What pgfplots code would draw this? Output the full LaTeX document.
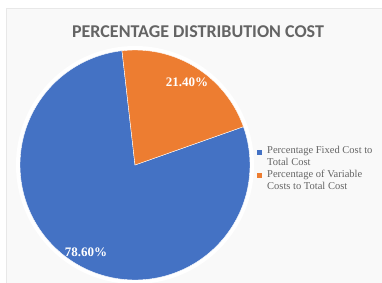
\documentclass[border=0pt]{standalone}
\usepackage{pgfplots}
\pgfplotsset{compat=1.18}
\usepackage{pgfplotstable}
\usepackage{fontspec}
\setmainfont{Liberation Serif}
\newfontfamily\titlefont{Carlito}
\definecolor{pieblue}{RGB}{68,114,196}
\definecolor{pieorange}{RGB}{237,125,49}
\definecolor{txtgray}{RGB}{100,100,100}
\pgfplotstableread{
label value
fixed 78.60
variable 21.40
}\datatable
\pgfplotstablegetelem{0}{value}\of\datatable \let\vfixed\pgfplotsretval
\pgfplotstablegetelem{1}{value}\of\datatable \let\vvar\pgfplotsretval
\pgfmathsetmacro\aStart{96.5}
\pgfmathsetmacro\aMid{\aStart-3.6*\vvar}
\pgfmathsetmacro\aEnd{\aStart-3.6*(\vvar+\vfixed)}
\begin{document}
\begin{tikzpicture}
\begin{axis}[name=ax, width=382pt, height=282pt, scale only axis,
  xmin=0, xmax=382, ymin=0, ymax=282, hide axis, clip=false]
% background frame
\fill[white] (axis cs:0,0) rectangle (axis cs:382,282);
\fill[gray!5, draw=gray!18] (axis cs:6,-10) rectangle (axis cs:390,274);
% halo
\fill[white] (axis cs:135,117) circle[radius=119pt];
% slices
\addplot[draw=white, line width=0.4pt, fill=pieblue, domain=\aEnd:\aMid, samples=180, variable=\t]
  ({135+115*cos(\t)},{117+115*sin(\t)}) -- (axis cs:135,117) -- cycle;
\addplot[draw=white, line width=0.4pt, fill=pieorange, domain=\aMid:\aStart, samples=60, variable=\t]
  ({135+115*cos(\t)},{117+115*sin(\t)}) -- (axis cs:135,117) -- cycle;
% labels
\node[text=white, font=\bfseries\fontsize{13}{14}\selectfont] at (axis cs:187,200) {\pgfmathprintnumber[fixed,fixed zerofill,precision=2,assume math mode=true]{\vvar}\%};
\node[text=white, font=\bfseries\fontsize{13}{14}\selectfont] at (axis cs:86,30) {\pgfmathprintnumber[fixed,fixed zerofill,precision=2,assume math mode=true]{\vfixed}\%};
% title
\node[text=txtgray, font=\titlefont\bfseries\fontsize{18}{20}\selectfont] at (axis cs:198,250) {PERCENTAGE DISTRIBUTION COST};
% legend
\fill[pieblue] (axis cs:257,127) rectangle (axis cs:262,132);
\node[anchor=north west, align=left, text=txtgray, inner sep=0pt, font=\fontsize{10.5}{12}\selectfont] at (axis cs:267,135.5) {Percentage Fixed Cost to\\Total Cost};
\fill[pieorange] (axis cs:257,104) rectangle (axis cs:262,109);
\node[anchor=north west, align=left, text=txtgray, inner sep=0pt, font=\fontsize{10.5}{12}\selectfont] at (axis cs:267,112.5) {Percentage of Variable\\Costs to Total Cost};
\end{axis}
\pgfresetboundingbox
\path (ax.south west) rectangle (ax.north east);
\end{tikzpicture}
\end{document}
